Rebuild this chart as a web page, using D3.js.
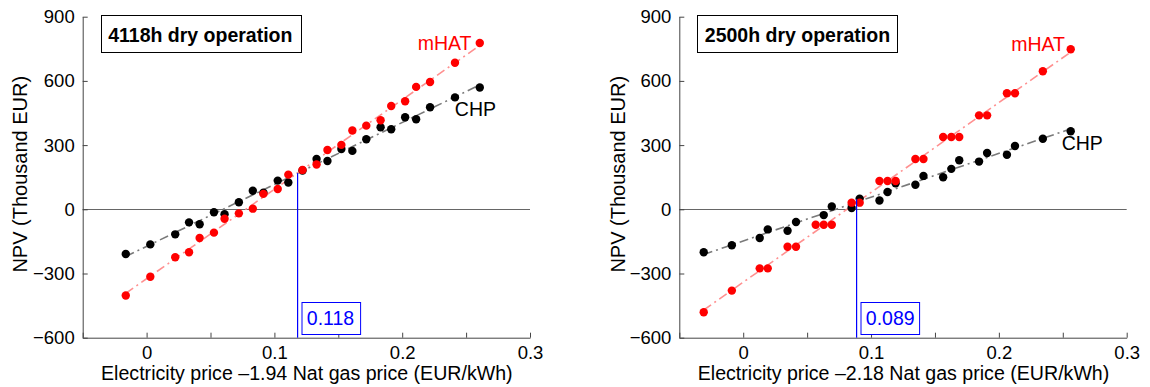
<!DOCTYPE html>
<html>
<head>
<meta charset="utf-8">
<script src="https://cdn.jsdelivr.net/npm/d3@7"></script>
<style>
  html, body { margin: 0; padding: 0; background: #fff; }
  svg { display: block; }
  text { font-family: "Liberation Sans", Arial, Helvetica, sans-serif; }
</style>
</head>
<body>
<svg id="chart" width="1150" height="387"></svg>
<script>
// ---------------- Data ----------------
const xTickValues = [-0.05, 0, 0.05, 0.1, 0.15, 0.2, 0.25, 0.3];
const xTickLabels = ["", "0", "", "0.1", "", "0.2", "", "0.3"];
const yTickValues = [-600, -300, 0, 300, 600, 900];
const yTickLabels = ["\u2212600", "\u2212300", "0", "300", "600", "900"];

const panelTitles = ["4118h dry operation", "2500h dry operation"];
const xAxisLabels = ["Electricity price \u20131.94 Nat gas price (EUR/kWh)",
                     "Electricity price \u20132.18 Nat gas price (EUR/kWh)"];
const yAxisLabel = "NPV (Thousand EUR)";
const seriesNames = ["CHP", "mHAT"];
const crossX = [0.118, 0.089];
const crossY = [169, 47];
const crossLabels = ["0.118", "0.089"];

// Left panel (4118h)
const leftChpX = [-0.0163,0.0029,0.0224,0.0332,0.0415,0.0527,0.061,0.0722,0.0831,0.0914,0.1026,0.1109,0.122,0.133,0.1415,0.1524,0.161,0.1719,0.1831,0.1914,0.2023,0.2109,0.2218,0.2413,0.2607];
const leftChpY = [-209,-164,-117,-61,-70,-14,-23,33,87,78,134,125,181,235,226,282,273,327,383,374,430,421,477,523,569];
const leftMhatX = leftChpX;
const leftMhatY = [-403,-315,-224,-201,-134,-109,-44,-19,3,72,95,162,184,209,277,301,368,391,416,483,505,572,595,685,777];

// Right panel (2500h)
const rightChpX = [-0.0309,-0.0089,0.0129,0.0192,0.0347,0.0413,0.063,0.0693,0.0848,0.0911,0.1066,0.1129,0.1192,0.1347,0.141,0.1564,0.1628,0.169,0.1845,0.1908,0.2063,0.2126,0.2344,0.2562];
const rightChpY = [-201,-168,-134,-94,-100,-59,-27,13,6,50,41,81,122,115,156,150,189,229,223,263,255,296,330,365];
const rightMhatX = [-0.0309,-0.0089,0.0129,0.0192,0.0347,0.0413,0.0567,0.063,0.0693,0.0848,0.0911,0.1066,0.1129,0.1192,0.1347,0.141,0.1564,0.1628,0.169,0.1845,0.1908,0.2063,0.2126,0.2344,0.2562];
const rightMhatY = [-481,-380,-276,-276,-175,-175,-72,-72,-72,31,31,132,132,132,235,235,338,338,338,439,439,542,542,645,748];

// Series label anchors (data coordinates)
const chpLabelAt  = [[0.2412, 436], [0.2491, 277]];
const mhatLabelAt = [[0.2542, 744], [0.2517, 740]];

// ---------------- Layout ----------------
const svg = d3.select("#chart");
const panels = [
  { left: 82.7, right: 530, chpX: leftChpX, chpY: leftChpY, mX: leftMhatX, mY: leftMhatY, ylabX: 20 },
  { left: 679.3, right: 1126.7, chpX: rightChpX, chpY: rightChpY, mX: rightMhatX, mY: rightMhatY, ylabX: 618 }
];
const plotTop = 16.7, plotBottom = 337.7;
const axisColor = "#444";

function fit(xs, ys) {
  const mx = d3.mean(xs), my = d3.mean(ys);
  let sxy = 0, sxx = 0;
  xs.forEach((x, i) => { sxy += (x - mx) * (ys[i] - my); sxx += (x - mx) * (x - mx); });
  const b = sxy / sxx;
  return x => my + b * (x - mx);
}

panels.forEach((p, pi) => {
  const x = d3.scaleLinear().domain([-0.05, 0.3]).range([p.left, p.right]);
  const y = d3.scaleLinear().domain([-600, 900]).range([plotBottom, plotTop]);
  const g = svg.append("g");

  // zero line
  g.append("line")
    .attr("x1", x(-0.05)).attr("x2", x(0.3))
    .attr("y1", Math.round(y(0)) + 0.5).attr("y2", Math.round(y(0)) + 0.5)
    .attr("stroke", "#666").attr("stroke-width", 1);

  // axes
  const xAxis = d3.axisBottom(x).tickValues(xTickValues)
    .tickFormat((d, i) => xTickLabels[i]).tickSizeInner(-5).tickSizeOuter(0).tickPadding(8.5);
  const gx = g.append("g").attr("transform", `translate(0,${plotBottom})`).call(xAxis);
  const yAxis = d3.axisLeft(y).tickValues(yTickValues)
    .tickFormat((d, i) => yTickLabels[i]).tickSizeInner(-5).tickSizeOuter(0).tickPadding(8);
  const gy = g.append("g").attr("transform", `translate(${p.left},0)`).call(yAxis);
  [gx, gy].forEach(a => {
    a.select(".domain").attr("stroke", axisColor);
    a.selectAll(".tick line").attr("stroke", axisColor);
    a.selectAll("text").attr("fill", "#000").style("font-size", "18.5px")
      .style("font-family", "'Liberation Sans', Arial, sans-serif");
  });

  // axis titles
  g.append("text")
    .attr("x", (p.left + p.right) / 2 + 0.5).attr("y", 380)
    .attr("text-anchor", "middle").style("font-size", "19.6px")
    .text(xAxisLabels[pi]);
  g.append("text")
    .attr("transform", `translate(${p.ylabX + 7},${(plotTop + plotBottom) / 2 - 3}) rotate(-90)`)
    .attr("text-anchor", "middle").style("font-size", "20px")
    .text(yAxisLabel);

  // trend lines
  const series = [
    { xs: p.chpX, ys: p.chpY, line: "#7a7a7a", dot: "#000" },
    { xs: p.mX, ys: p.mY, line: "#ff9090", dot: "#ff0000" }
  ];
  series.forEach(s => {
    const f = fit(s.xs, s.ys);
    const x0 = d3.min(s.xs), x1 = d3.max(s.xs);
    g.append("line")
      .attr("x1", x(x0)).attr("y1", y(f(x0)))
      .attr("x2", x(x1)).attr("y2", y(f(x1)))
      .attr("stroke", s.line).attr("stroke-width", 1.6)
      .attr("stroke-dasharray", "9,4,2,4");
  });
  series.forEach(s => {
    g.append("g").selectAll("circle")
      .data(s.xs.map((xv, i) => [xv, s.ys[i]]))
      .join("circle")
      .attr("cx", d => x(d[0])).attr("cy", d => y(d[1]))
      .attr("r", 4.2).attr("fill", s.dot);
  });

  // crossing marker
  const cx = Math.floor(x(crossX[pi]));
  g.append("rect")
    .attr("x", cx).attr("y", y(crossY[pi]))
    .attr("width", 1.2).attr("height", plotBottom - y(crossY[pi]))
    .attr("fill", "#0000ff");
  g.append("rect")
    .attr("x", cx + 5).attr("y", Math.round(plotBottom - 35.7) + 0.5)
    .attr("width", 58.6).attr("height", 32)
    .attr("fill", "#fff").attr("stroke", "#0000ff").attr("stroke-width", 1);
  g.append("text")
    .attr("x", cx + 9.8).attr("y", plotBottom - 12.5)
    .attr("fill", "#0000ff").style("font-size", "19.5px")
    .text(crossLabels[pi]);

  // series labels
  g.append("text")
    .attr("x", x(mhatLabelAt[pi][0])).attr("y", y(mhatLabelAt[pi][1]))
    .attr("text-anchor", "end").attr("fill", "#ff0000").style("font-size", "19.5px")
    .text(seriesNames[1]);
  g.append("text")
    .attr("x", x(chpLabelAt[pi][0])).attr("y", y(chpLabelAt[pi][1]))
    .attr("fill", "#000").style("font-size", "19.5px")
    .text(seriesNames[0]);

  // title box
  g.append("rect")
    .attr("x", Math.round(p.left + 18) + 0.5).attr("y", 15.5)
    .attr("width", 200).attr("height", 37)
    .attr("fill", "#fff").attr("stroke", "#000").attr("stroke-width", 1);
  g.append("text")
    .attr("x", p.left + 25.5).attr("y", 41.7)
    .style("font-size", "19.5px").style("font-weight", "bold")
    .text(panelTitles[pi]);
});
</script>
</body>
</html>
